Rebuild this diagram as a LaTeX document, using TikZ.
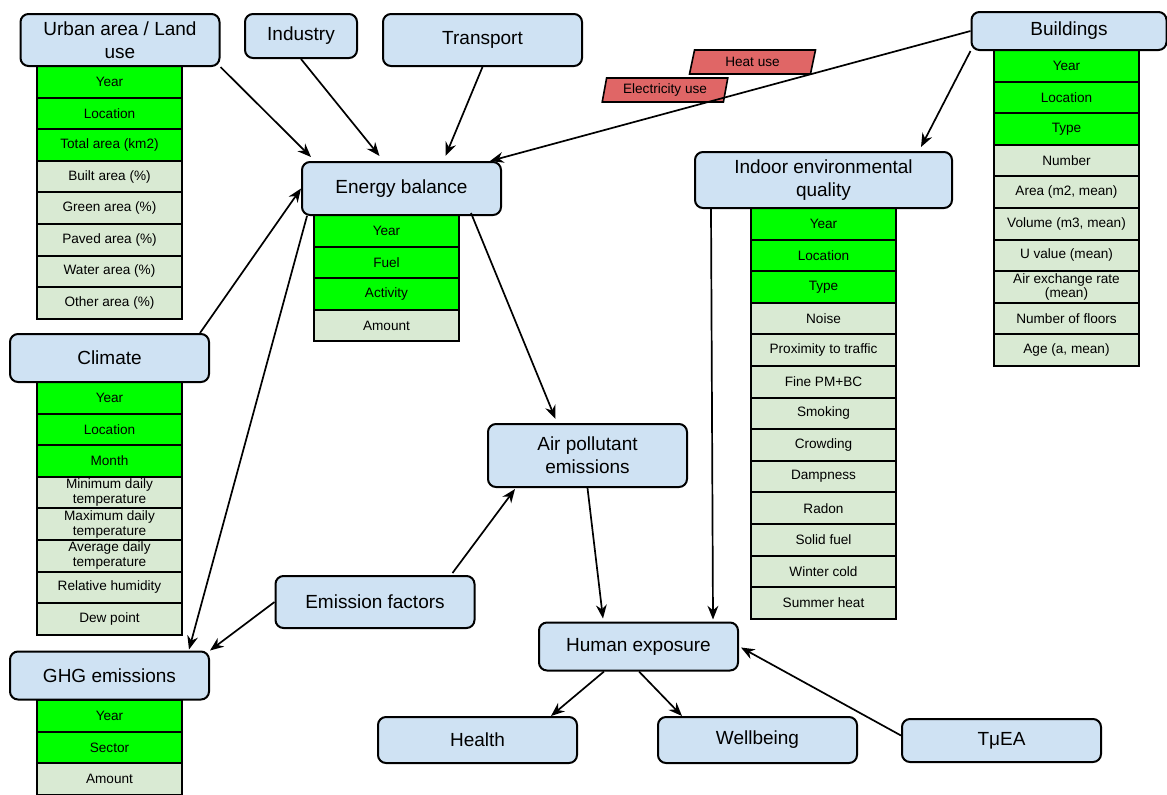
\documentclass[tikz,border=0pt]{standalone}
\usepackage{fontspec}
\setmainfont{Liberation Sans}
\usetikzlibrary{shapes.geometric,arrows.meta,calc}

\definecolor{boxblue}{HTML}{CFE2F3}
\definecolor{cellgreen}{HTML}{00FF00}
\definecolor{cellgrey}{HTML}{D9EAD3}
\definecolor{userred}{HTML}{E06666}

% data table: name, centre x, top y, number of key rows, rows
\newcommand{\datatable}[5]{%
  \foreach \txt [count=\i] in {#5} {
    \ifnum\i>#4\relax\def\cellcol{cellgrey}\else\def\cellcol{cellgreen}\fi
    \node[cell,fill=\cellcol] (#1\i) at (#2,{#3+(\i-0.5)*31.6}) {\txt};
  }%
}

\begin{document}
\begin{tikzpicture}[x=0.5pt,y=-0.5pt,
  block/.style={draw,line width=1pt,rounded corners=4pt,fill=boxblue,
    minimum width=99.5pt,minimum height=24pt,align=center,inner sep=2pt,
    font=\fontsize{9.5}{11.5}\selectfont},
  cell/.style={draw,line width=1pt,minimum width=72.5pt,minimum height=15.8pt,
    inner sep=0pt,align=center,font=\fontsize{6.8}{7.4}\selectfont},
  usebox/.style={trapezium,trapezium left angle=76,trapezium right angle=104,
    trapezium stretches=true,draw,line width=0.8pt,fill=userred,
    minimum width=63pt,minimum height=12pt,inner sep=0pt,
    font=\fontsize{6.8}{7.4}\selectfont},
  arrow/.style={-{Stealth[length=2.4mm,width=1.9mm]},line width=0.85pt},
]
  \useasboundingbox (0,0) rectangle (1167,794);

  % tables
  \datatable{urb}{109.5}{66}{3}{Year,Location,Total area (km2),Built area (\%),
    Green area (\%),Paved area (\%),Water area (\%),Other area (\%)}
  \datatable{ene}{386.5}{215}{3}{Year,Fuel,Activity,Amount}
  \datatable{cli}{109.5}{382}{3}{Year,Location,Month,Minimum daily\\temperature,
    Maximum daily\\temperature,Average daily\\temperature,Relative humidity,Dew point}
  \datatable{ghg}{109.5}{700}{2}{Year,Sector,Amount}
  \datatable{ieq}{823.5}{208}{3}{Year,Location,Type,Noise,Proximity to traffic,
    Fine PM+BC,Smoking,Crowding,Dampness,Radon,Solid fuel,Winter cold,Summer heat}
  \datatable{bld}{1066.5}{50}{3}{Year,Location,Type,Number,{Area (m2, mean)},
    {Volume (m3, mean)},U value (mean),Air exchange rate\\(mean),Number of floors,
    {Age (a, mean)}}

  % blocks
  \node[block,minimum height=26pt] (urban) at (120,40) {Urban area / Land\\use};
  \node[block,minimum width=56pt,minimum height=22pt] (industry) at (301,36) {Industry};
  \node[block,minimum height=26pt] (transport) at (482.5,40) {Transport};
  \node[block,minimum width=97.5pt,minimum height=19pt] (buildings) at (1069,31) {Buildings};
  \node[block,minimum height=26.5pt] (energy) at (401.5,188.5) {Energy balance};
  \node[block,minimum width=128.5pt,minimum height=28pt] (indoor) at (823.5,180)
    {Indoor environmental\\quality};
  \node[block] (climate) at (109.5,358) {Climate};
  \node[block,minimum height=31.5pt] (air) at (587.5,455.5) {Air pollutant\\emissions};
  \node[block,minimum height=26pt] (emis) at (375,602) {Emission factors};
  \node[block] (ghg) at (109.5,675.5) {GHG emissions};
  \node[block] (human) at (638.5,646.5) {Human exposure};
  \node[block,minimum height=23pt] (health) at (477.5,740) {Health};
  \node[block,minimum height=23pt] (wellbeing) at (757.5,740) {Wellbeing};
  \node[block,minimum height=21.5pt] (tuea) at (1001.5,740.5) {TμEA};

  \node[usebox] (heat) at (752.5,62) {Heat use};
  \node[usebox] (elec) at (665,90) {Electricity use};

  % connectors
  \draw[arrow] (urban.south east) -- ($(energy.north west)+(10,-4)$);
  \draw[arrow] (industry.south) -- ($(energy.north)+(-22,-5)$);
  \draw[arrow] (transport.south) -- ($(energy.north)+(44,-5)$);
  \draw[arrow] (buildings.west) -- ($(energy.north east)+(-12,0)$);
  \draw[arrow] (buildings.south west) -- ($(indoor.north east)+(-32,-4)$);
  \draw[arrow] ($(climate.north east)+(-10,0)$) -- (energy.west);
  \draw[arrow] ($(energy.south west)+(6,0)$) -- ($(ghg.north east)+(-21,-1)$);
  \draw[arrow] ($(energy.south east)+(-31,-3)$) -- ($(air.north)+(-32,-4)$);
  \draw[arrow] ($(emis.north east)+(-23,-2)$) -- ($(air.south west)+(28,1)$);
  \draw[arrow] (emis.west) -- (ghg.north east);
  \draw[arrow] (air.south) -- ($(human.north west)+(65,-3)$);
  \draw[arrow] ($(indoor.south west)+(17,0)$) -- ($(human.north east)+(-26,-2)$);
  \draw[arrow] ($(human.south west)+(66,0)$) -- ($(health.north east)+(-27,0)$);
  \draw[arrow] ($(human.south west)+(101,0)$) -- ($(wellbeing.north west)+(25,0)$);
  \draw[arrow] ($(tuea.west)+(0,-5)$) -- ($(human.east)+(2,1)$);
\end{tikzpicture}
\end{document}
